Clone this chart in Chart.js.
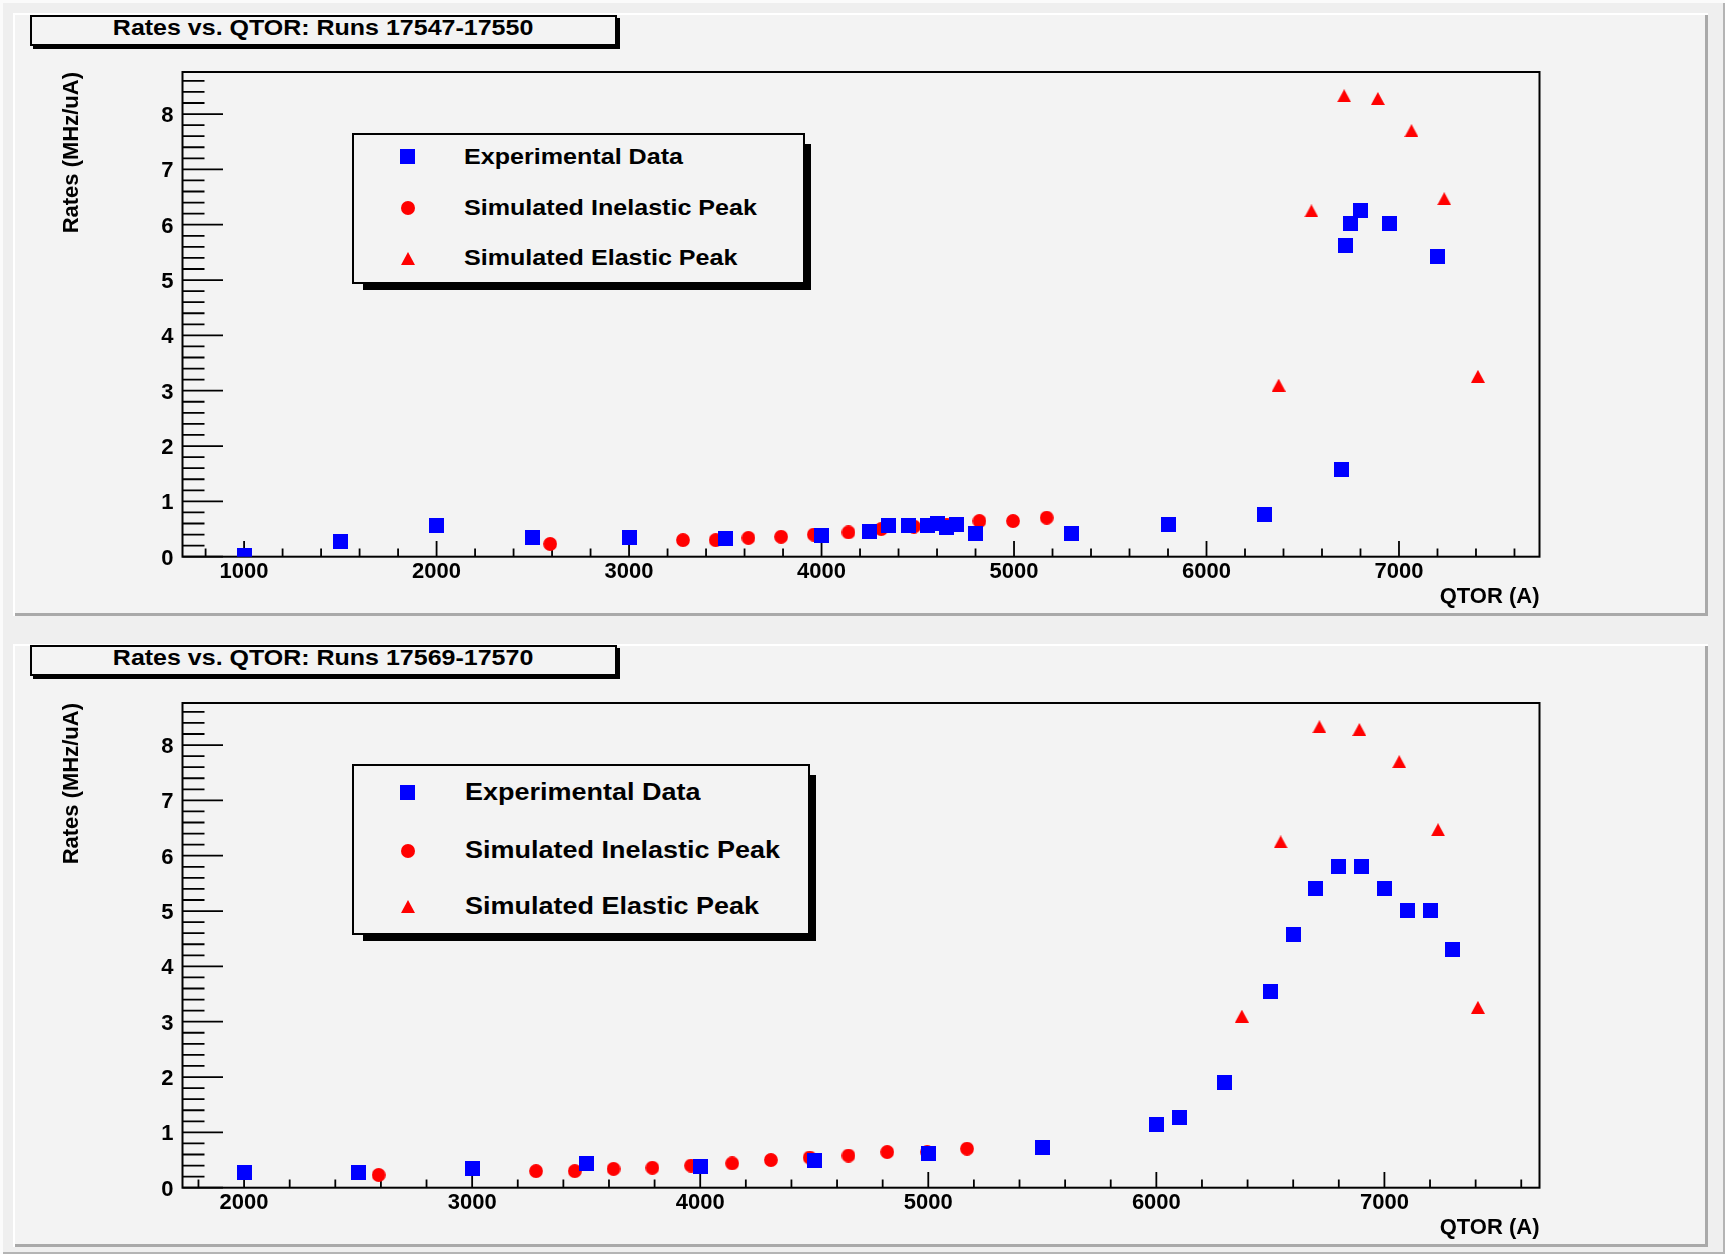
<!DOCTYPE html>
<html>
<head>
<meta charset="utf-8">
<script src="https://cdn.jsdelivr.net/npm/chart.js@4.4.1/dist/chart.umd.min.js"></script>
<style>
  html, body { margin: 0; padding: 0; background: #efefef; }
  #stage {
    position: relative; width: 1725px; height: 1254px; overflow: hidden;
    background: #efefef;
    box-shadow: inset 3px 3px 0 #fbfbfb, inset -2px -2px 0 #b4b4b4;
  }
  .pad {
    position: absolute; left: 13px; width: 1695px; height: 603px;
    background: #f3f3f3;
    box-shadow: inset 2px 2px 0 #ffffff, inset -3px -3px 0 #a9a9a9;
  }
  .pad canvas { position: absolute; left: 0; top: 0; }
  .shadow { position: absolute; background: #000; }
  .box { position: absolute; box-sizing: border-box; border: 2px solid #000; background: #f3f3f3; }
  .txt {
    position: absolute; font-family: "Liberation Sans", Arial, sans-serif; font-weight: bold;
    color: #000; white-space: nowrap; line-height: 22px;
  }
  .txt span { display: inline-block; }
  .mk { position: absolute; }
</style>
</head>
<body>
<div id="stage">
  <div class="pad" style="top:13px"><canvas id="chartA" width="1695" height="603"></canvas></div>
  <div class="pad" style="top:644px"><canvas id="chartB" width="1695" height="603"></canvas></div>
</div>
<script>
// ---- data: QTOR current (A) and rate (MHz/uA) ----
const runsA_qtor = [1000, 1500, 2000, 2500, 3000, 3500, 4000, 4250, 4350, 4450, 4550, 4600, 4650, 4700, 4800, 5300, 5800, 6300, 6700, 6720, 6750, 6800, 6950, 7200];
const runsA_rate = [0.02, 0.28, 0.56, 0.35, 0.35, 0.32, 0.39, 0.45, 0.56, 0.56, 0.57, 0.60, 0.53, 0.59, 0.42, 0.42, 0.59, 0.76, 1.57, 5.62, 6.03, 6.26, 6.03, 5.42];

const runsB_qtor = [2000, 2500, 3000, 3500, 4000, 4500, 5000, 5500, 6000, 6100, 6300, 6500, 6600, 6700, 6800, 6900, 7000, 7100, 7200, 7300];
const runsB_rate = [0.28, 0.28, 0.35, 0.43, 0.38, 0.49, 0.62, 0.73, 1.15, 1.26, 1.90, 3.54, 4.57, 5.41, 5.81, 5.81, 5.41, 5.01, 5.01, 4.31];

const simInel_qtor = [2590, 3280, 3450, 3620, 3790, 3960, 4140, 4310, 4480, 4650, 4820, 4995, 5170];
const simInel_rate = [0.23, 0.30, 0.30, 0.34, 0.36, 0.40, 0.44, 0.50, 0.545, 0.58, 0.645, 0.645, 0.705];

const simElas_qtor = [6375, 6545, 6715, 6890, 7065, 7235, 7410];
const simElas_rate = [3.10, 6.25, 8.33, 8.28, 7.70, 6.47, 3.26];

const xTicksA = [1000, 2000, 3000, 4000, 5000, 6000, 7000];
const xTicksB = [2000, 3000, 4000, 5000, 6000, 7000];
const xLabelsA = ['1000', '2000', '3000', '4000', '5000', '6000', '7000'];
const xLabelsB = ['2000', '3000', '4000', '5000', '6000', '7000'];
const yTicks = [0, 1, 2, 3, 4, 5, 6, 7, 8];
const yLabels = ['0', '1', '2', '3', '4', '5', '6', '7', '8'];

const seriesNames = ['Experimental Data', 'Simulated Inelastic Peak', 'Simulated Elastic Peak'];
const titleA = 'Rates vs. QTOR: Runs 17547-17550';
const titleB = 'Rates vs. QTOR: Runs 17569-17570';
const xTitle = 'QTOR (A)';
const yTitle = 'Rates (MHz/uA)';

// ---- styling ----
const BLUE = '#0000ff', RED = '#ff0000';
const FONT = '"Liberation Sans", Arial, sans-serif';

function makeMarker(kind, color) {
  const c = document.createElement('canvas');
  if (kind === 'square') { c.width = 15; c.height = 15; }
  else if (kind === 'circle') { c.width = 14; c.height = 14; }
  else { c.width = 14; c.height = 13; }
  const g = c.getContext('2d');
  g.fillStyle = color;
  if (kind === 'square') {
    g.fillRect(0, 0, 15, 15);
  } else if (kind === 'circle') {
    g.beginPath(); g.arc(7, 7, 6.9, 0, Math.PI * 2); g.fill();
  } else {
    g.beginPath(); g.moveTo(0, 13); g.lineTo(14, 13); g.lineTo(7, 0); g.closePath(); g.fill();
  }
  return c;
}
const mkSquare = makeMarker('square', BLUE);
const mkCircle = makeMarker('circle', RED);
const mkTriangle = makeMarker('triangle', RED);

// frame plus inward major/minor ticks, ROOT style
const frameTicks = {
  id: 'frameTicks',
  beforeDatasetsDraw(chart) {
    const { ctx, chartArea: a, scales: { x, y } } = chart;
    ctx.save();
    ctx.strokeStyle = '#000';
    ctx.lineWidth = 2;
    ctx.strokeRect(a.left, a.top, a.right - a.left, a.bottom - a.top);
    ctx.lineWidth = 1.8;
    ctx.beginPath();
    for (let v = Math.ceil(x.min / 200) * 200; v <= x.max; v += 200) {
      const px = x.getPixelForValue(v);
      const len = (v % 1000 === 0) ? 15.7 : 8.3;
      ctx.moveTo(px, a.bottom); ctx.lineTo(px, a.bottom - len);
    }
    for (let i = 0; i * 0.2 <= y.max; i++) {
      const py = y.getPixelForValue(i * 0.2);
      const len = (i % 5 === 0) ? 40.5 : 22;
      ctx.moveTo(a.left, py); ctx.lineTo(a.left + len, py);
    }
    ctx.stroke();
    ctx.restore();
  }
};

function pts(xs, ys) { return xs.map((q, i) => ({ x: q, y: ys[i] })); }

function buildPanel(id, xMin, xMax, xTicks, xLabels, expQ, expR) {
  const tickFont = { family: FONT, size: 22, weight: 'bold' };
  return new Chart(document.getElementById(id), {
    type: 'scatter',
    data: {
      datasets: [
        { label: seriesNames[0], data: pts(expQ, expR), pointStyle: mkSquare, pointRadius: 7 },
        { label: seriesNames[1], data: pts(simInel_qtor, simInel_rate), pointStyle: mkCircle, pointRadius: 7 },
        { label: seriesNames[2], data: pts(simElas_qtor, simElas_rate), pointStyle: mkTriangle, pointRadius: 7 }
      ]
    },
    options: {
      responsive: false,
      animation: false,
      devicePixelRatio: 1,
      events: [],
      layout: { padding: { left: 0, top: 59, right: 168.5, bottom: 0 } },
      plugins: { legend: { display: false }, tooltip: { enabled: false } },
      scales: {
        x: {
          type: 'linear', min: xMin, max: xMax,
          afterBuildTicks: s => { s.ticks = xTicks.map(v => ({ value: v })); },
          afterFit: s => { s.height = 59.3; },
          grid: { display: false, drawTicks: false },
          border: { display: false },
          ticks: { font: tickFont, color: '#000', padding: 2, autoSkip: false, maxRotation: 0,
                   callback: (v, i) => xLabels[i] },
          title: { display: true, text: xTitle, align: 'end', color: '#000', font: tickFont,
                   padding: { top: 0, bottom: 6 } }
        },
        y: {
          type: 'linear', min: 0, max: 8.76,
          afterBuildTicks: s => { s.ticks = yTicks.map(v => ({ value: v })); },
          afterFit: s => { s.width = 169.5; },
          grid: { display: false, drawTicks: false },
          border: { display: false },
          ticks: { font: tickFont, color: '#000', padding: 9, labelOffset: 2,
                   callback: (v, i) => yLabels[i] },
          title: { display: true, text: yTitle, align: 'end', color: '#000', font: tickFont,
                   padding: { top: 46, bottom: 0 } }
        }
      }
    },
    plugins: [frameTicks]
  });
}

buildPanel('chartA', 680, 7730, xTicksA, xLabelsA, runsA_qtor, runsA_rate);
buildPanel('chartB', 1730, 7680, xTicksB, xLabelsB, runsB_qtor, runsB_rate);

// ---- title boxes and legends (page coordinates) ----
const stage = document.getElementById('stage');
function el(cls, css, html) {
  const d = document.createElement('div');
  d.className = cls; d.style.cssText = css;
  if (html !== undefined) d.innerHTML = html;
  stage.appendChild(d);
  return d;
}
function titleBox(top, text) {
  el('shadow', `left:33px;top:${top + 3}px;width:587px;height:31px;`);
  el('box', `left:30px;top:${top}px;width:587px;height:31px;`);
  const t = el('txt', `left:30px;width:587px;top:${top + 2}px;text-align:center;font-size:22px;`);
  const s = document.createElement('span');
  s.textContent = text; s.style.transform = 'scaleX(1.136)';
  t.appendChild(s);
}
function legendBox(box, rows, textX, fontSize, stretch) {
  el('shadow', `left:${box.x + 11}px;top:${box.y + 11}px;width:${box.w - 5}px;height:${box.h - 5}px;`);
  el('box', `left:${box.x}px;top:${box.y}px;width:${box.w}px;height:${box.h}px;`);
  const mx = 407.6;
  el('mk', `left:${mx - 7.5}px;top:${rows[0] - 7.5}px;width:15px;height:15px;background:${BLUE};`);
  el('mk', `left:${mx - 7}px;top:${rows[1] - 7}px;width:14px;height:14px;border-radius:50%;background:${RED};`);
  el('mk', `left:${mx - 7}px;top:${rows[2] - 6.5}px;width:0;height:0;border-left:7px solid transparent;border-right:7px solid transparent;border-bottom:13px solid ${RED};`);
  seriesNames.forEach((name, i) => {
    const t = el('txt', `left:${textX}px;top:${rows[i] - fontSize / 2}px;font-size:${fontSize}px;line-height:${fontSize}px;`);
    const s = document.createElement('span');
    s.textContent = name; s.style.transform = `scaleX(${stretch})`; s.style.transformOrigin = 'left center';
    t.appendChild(s);
  });
}

titleBox(15, titleA);
titleBox(645, titleB);
legendBox({ x: 352, y: 133, w: 453, h: 151 }, [156.7, 208.3, 258.3], 463.5, 22, 1.141);
legendBox({ x: 352, y: 764, w: 458, h: 171 }, [792.3, 850.7, 906.7], 465, 23, 1.173);
</script>
</body>
</html>
